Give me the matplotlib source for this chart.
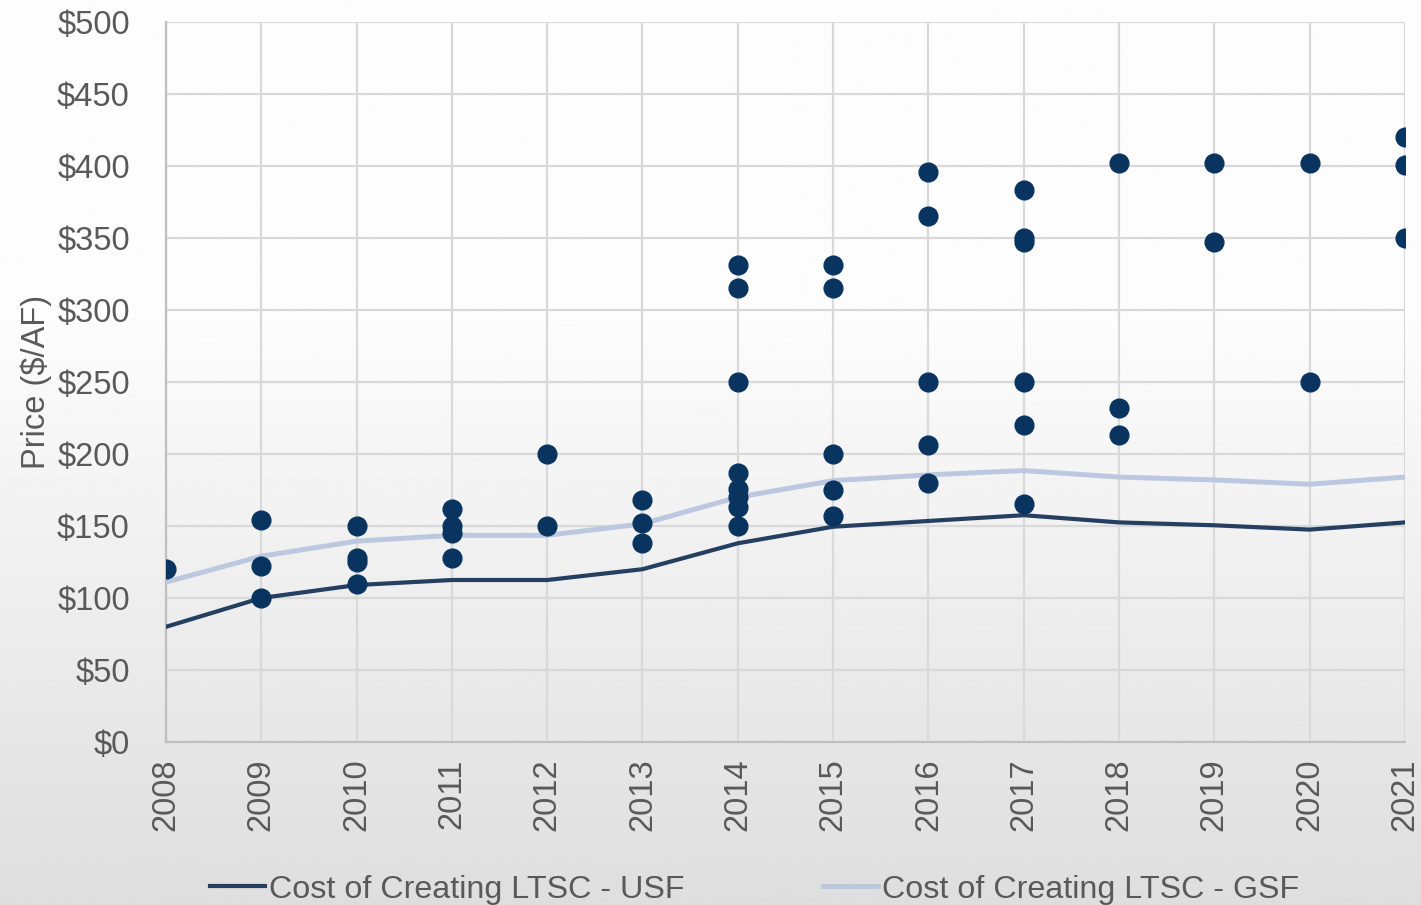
import matplotlib.pyplot as plt
import numpy as np

plt.rcParams['font.family'] = ['Liberation Sans', 'DejaVu Sans']

years = list(range(2008, 2022))

# yearly cost lines
usf_cost = [80, 100, 109, 112.5, 112.5, 120, 138, 149.5, 153.5, 157.5, 152.5, 150.5, 147.5, 152.5]
gsf_cost = [111, 129, 139.5, 143.5, 143.5, 151.5, 170, 181.5, 185.5, 188.5, 184, 182, 179, 184]

# observed transaction prices (year, price)
sale_years = [2008,
              2009, 2009, 2009,
              2010, 2010, 2010, 2010,
              2011, 2011, 2011, 2011,
              2012, 2012,
              2013, 2013, 2013,
              2014, 2014, 2014, 2014, 2014, 2014, 2014, 2014,
              2015, 2015, 2015, 2015, 2015,
              2016, 2016, 2016, 2016, 2016,
              2017, 2017, 2017, 2017, 2017, 2017,
              2018, 2018, 2018,
              2019, 2019,
              2020, 2020,
              2021, 2021, 2021]
sale_prices = [120,
               154, 122, 100,
               150, 128, 125, 110,
               162, 150, 145, 128,
               200, 150,
               168, 152, 138,
               331, 315, 250, 187, 176, 170, 163, 150,
               331, 315, 200, 175, 157,
               396, 365, 250, 206, 180,
               383, 350, 347, 250, 220, 165,
               402, 232, 213,
               402, 347,
               402, 250,
               420, 401, 350]

fig = plt.figure(figsize=(14.21, 9.05), dpi=100)

# background gradient (white on top, light grey at bottom)
bg = fig.add_axes([0, 0, 1, 1], zorder=-10)
t = np.linspace(0, 1, 400)
shade = np.where(t < 0.35, 0.99, 0.99 - (t - 0.35) / 0.65 * 0.12)
bg.imshow(shade[:, None], aspect='auto', cmap='gray', vmin=0, vmax=1,
          extent=[0, 1, 0, 1], origin='upper')
bg.axis('off')

ax = fig.add_axes([0.1168, 0.1801, 0.8719, 0.7956])
ax.set_facecolor('none')

ax.plot(years, usf_cost, color='#243F60', lw=3, label='Cost of Creating LTSC - USF', zorder=3)
ax.plot(years, gsf_cost, color='#BCC8E0', lw=3.6, label='Cost of Creating LTSC - GSF', zorder=3)
ax.plot(sale_years, sale_prices, 'o', color='#08345F', ms=13.5, zorder=4)

ax.set_xlim(2008, 2021)
ax.set_ylim(0, 500)
ax.set_xticks(years)
ax.set_xticklabels([str(y) for y in years], rotation=90)
ax.set_yticks(range(0, 501, 50))
ax.set_yticklabels(['$' + str(v) for v in range(0, 501, 50)])
ax.tick_params(labelsize=23.5, colors='#595959', length=0)
ax.tick_params(axis='y', pad=26)
ax.tick_params(axis='x', pad=12)
ax.grid(True, color='#d9d9d9', lw=1.6)
ax.set_axisbelow(True)
for s in ['top', 'right']:
    ax.spines[s].set_visible(False)
for s in ['left', 'bottom']:
    ax.spines[s].set_color('#bfbfbf')
    ax.spines[s].set_linewidth(1.6)

ax.set_ylabel('Price ($/AF)', fontsize=23.5, color='#595959', labelpad=4)

fig.legend(loc='center', bbox_to_anchor=(0.531, 0.017), ncol=2, frameon=False,
           fontsize=23.2, labelcolor='#595959', handlelength=1.7,
           handletextpad=0.13, columnspacing=4.3)

fig.savefig('out.png', dpi=100)
